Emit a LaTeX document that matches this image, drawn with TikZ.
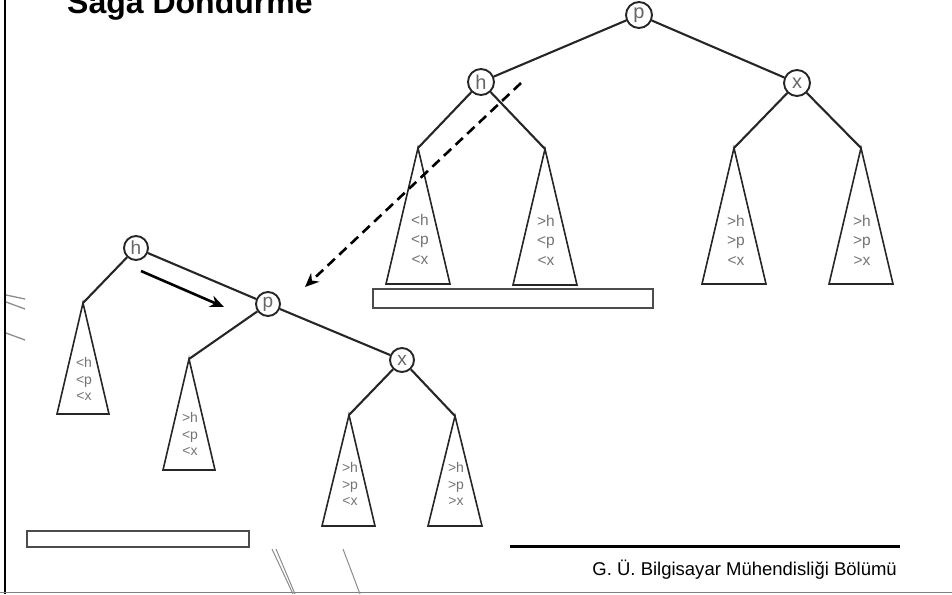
\documentclass[tikz,border=0pt]{standalone}
\usepackage{fontspec}
\setmainfont{Liberation Sans}
\usetikzlibrary{arrows.meta}
\begin{document}
\begin{tikzpicture}[x=1pt,y=-1pt,
  key/.style={circle,draw=black!85,line width=1.9pt,fill=white,minimum size=26pt,
    inner sep=0pt,font=\fontsize{20}{20}\selectfont,text=black!60},
  keysm/.style={key,minimum size=24pt,font=\fontsize{19}{19}\selectfont},
  edge/.style={draw=black!85,line width=2.1pt},
  subtri/.style={draw=black!85,line width=1.6pt,line join=miter},
  rng/.style={align=center,text=black!55,inner sep=0pt,font=\fontsize{15.5}{19.5}\selectfont},
  rngsm/.style={rng,font=\fontsize{14}{16.5}\selectfont},
  bar/.style={draw=black!70,line width=1.3pt},
  move/.style={line width=2.6pt,-{Stealth[length=14pt,width=12pt]}},
  deco/.style={draw=black!45,line width=1.3pt}]
\useasboundingbox (0,0) rectangle (952,594);

% frame and decoration
\draw[line width=2.6pt] (5,0) -- (5,594);
\draw[draw=black!50,line width=1.6pt] (0,592.5) -- (952,592.5);
\draw[deco] (6,295) -- (25,299);
\draw[deco] (6,302) -- (25,309);
\draw[deco] (6,333) -- (25,340);
\draw[deco,line width=1pt] (272,549) -- (293,594);
\draw[deco,line width=1pt] (276,549) -- (295,594);
\draw[deco,line width=1pt] (343,549) -- (360,594);

% title
\node[anchor=base west,inner sep=0pt,font=\bfseries\fontsize{32}{32}\selectfont] (title) at (67,14) {Sağa Döndürme};

% ---------- tree before the rotation ----------
\node[key] (p1) at (639,15) {p};
\node[key] (h1) at (481,82) {h};
\node[key] (x1) at (797,83) {x};
\coordinate (a1) at (418,148);
\coordinate (b1) at (545,149);
\coordinate (c1) at (734,148);
\coordinate (d1) at (861,148);
\draw[edge] (p1) -- (h1);
\draw[edge] (p1) -- (x1);
\draw[edge] (h1) -- (a1);
\draw[edge] (h1) -- (b1);
\draw[edge] (x1) -- (c1);
\draw[edge] (x1) -- (d1);
\foreach \t in {a1,b1,c1,d1}
  \draw[subtri] (\t) -- ++(-32,136) -- ++(64,0) -- cycle;
\node[rng] (la1) at (420,239) {<h\\<p\\<x};
\node[rng] (lb1) at (546,240) {>h\\<p\\<x};
\node[rng] (lc1) at (736,240) {>h\\>p\\<x};
\node[rng] (ld1) at (862,240) {>h\\>p\\>x};
\draw[bar] (373,289) rectangle (653,308);

% ---------- tree after the rotation ----------
\node[keysm] (h2) at (136,248) {h};
\node[keysm] (p2) at (268,304) {p};
\node[keysm] (x2) at (402,360) {x};
\coordinate (a2) at (83,303);
\coordinate (b2) at (189,359);
\coordinate (c2) at (349,415);
\coordinate (d2) at (455,416);
\draw[edge] (h2) -- (a2);
\draw[edge] (h2) -- (p2);
\draw[edge] (p2) -- (b2);
\draw[edge] (p2) -- (x2);
\draw[edge] (x2) -- (c2);
\draw[edge] (x2) -- (d2);
\draw[subtri] (a2) -- ++(-26,111) -- ++(52,0) -- cycle;
\draw[subtri] (b2) -- ++(-26,111) -- ++(52,0) -- cycle;
\draw[subtri] (c2) -- ++(-27,111) -- ++(53,0) -- cycle;
\draw[subtri] (d2) -- ++(-27,110) -- ++(54,0) -- cycle;
\node[rngsm] (la2) at (84,379) {<h\\<p\\<x};
\node[rngsm] (lb2) at (190,434) {>h\\<p\\<x};
\node[rngsm] (lc2) at (350,484) {>h\\>p\\<x};
\node[rngsm] (ld2) at (456,484) {>h\\>p\\>x};
\draw[bar] (27,531) rectangle (249,547);

% moves
\coordinate (ds) at (521,83);
\coordinate (de) at (305,287);
\draw[move,dash pattern=on 10pt off 6pt] (ds) -- (de);
\coordinate (ms) at (141,271);
\coordinate (me) at (224,307);
\draw[move] (ms) -- (me);

% footer
\draw[line width=3pt] (510,546) -- (900,546);
\node[anchor=base east,inner sep=0pt,font=\fontsize{18.5}{18.5}\selectfont] (foot) at (897,575) {G. Ü. Bilgisayar Mühendisliği Bölümü};
\end{tikzpicture}
\end{document}
